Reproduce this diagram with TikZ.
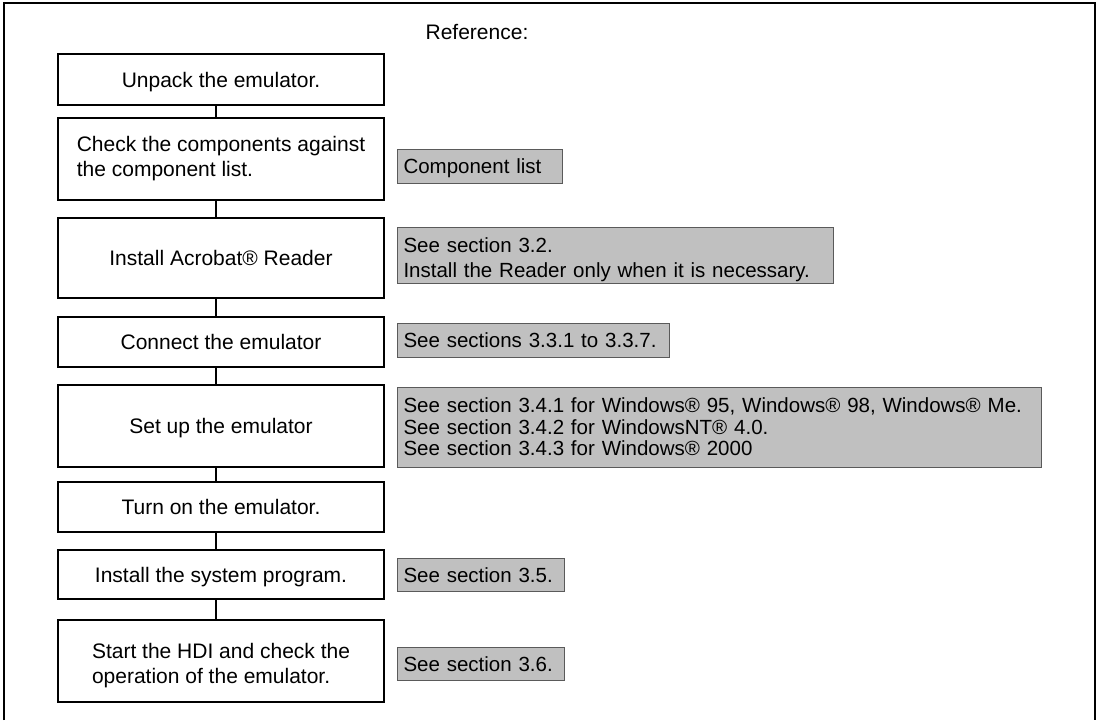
\documentclass[tikz,border=0pt]{standalone}
\usepackage{fontspec}
\setmainfont{Liberation Sans}
\definecolor{notefill}{HTML}{C0C0C0}
\definecolor{noteline}{HTML}{5A5A5A}
\tikzset{
  stepbox/.style={draw=black,line width=2pt,fill=white,minimum width=326pt,align=left,inner sep=0pt},
  note/.style={draw=noteline,line width=1pt,fill=notefill,anchor=west,align=left,inner xsep=6pt,inner ysep=0pt,
    font=\fontsize{20.5}{25}\selectfont},
  oneline/.style={text height=15pt,text depth=0pt},
  link/.style={line width=2pt},
}
\begin{document}
\begin{tikzpicture}[x=1pt,y=-1pt,font=\fontsize{21}{25}\selectfont]
	   \useasboundingbox (0,0) rectangle (1099,720);
	   % outer frame
	   \draw[line width=1.5pt] (4,720) -- (4,3) -- (1095,3) -- (1095,720);
	   \node [oneline] (title) at (477,32) {Reference:};
	   % main steps
	   \node [stepbox,oneline,minimum height=51pt] (unpack) at (221,79.5) {Unpack the emulator.};
	   \node [stepbox,minimum height=82pt] (check) at (221,159) {Check the components against\\the component list.};
	   \node [stepbox,oneline,minimum height=80pt] (acro) at (221,258) {Install Acrobat® Reader};
	   \node [stepbox,oneline,minimum height=50pt] (connect) at (221,342) {Connect the emulator};
	   \node [stepbox,oneline,minimum height=82pt] (setup) at (221,426) {Set up the emulator};
	   \node [stepbox,oneline,minimum height=50pt] (turnon) at (221,507) {Turn on the emulator.};
	   \node [stepbox,oneline,minimum height=49pt] (sysprog) at (221,574.5) {Install the system program.};
	   \node [stepbox,text height=50pt,minimum height=82pt] (hdi) at (221,661) {Start the HDI and check the\\operation of the emulator.};
	   % connectors run down the spine
	   \coordinate (spine) at (216,0);
	   \foreach \a/\b in {unpack/check,check/acro,acro/connect,connect/setup,setup/turnon,turnon/sysprog,sysprog/hdi}
	     \draw[link] (\a.south -| spine) -- (\b.north -| spine);
	   % notes
	   \node [note,oneline,text width=153pt,minimum height=34pt] (n-check) at (397,166) {Component list};
	   \node [note,text depth=19.5pt,text width=424pt,minimum height=56pt] (n-acro) at (397,255) {See section 3.2.\\Install the Reader only when it is necessary.};
	   \node [note,oneline,text width=260pt,minimum height=34pt] (n-connect) at (397,340) {See sections 3.3.1 to 3.3.7.};
	   \node [note,text width=632pt,minimum height=80pt,font=\fontsize{20.5}{21.5}\selectfont] (n-setup) at (397,427) {See section 3.4.1 for Windows® 95, Windows® 98, Windows® Me.\\See section 3.4.2 for WindowsNT® 4.0.\\See section 3.4.3 for Windows® 2000};
	   \node [note,oneline,text width=155pt,minimum height=33pt] (n-sysprog) at (397,574.5) {See section 3.5.};
	   \node [note,oneline,text width=155pt,minimum height=33pt] (n-hdi) at (397,663.5) {See section 3.6.};
	\end{tikzpicture}
\end{document}
